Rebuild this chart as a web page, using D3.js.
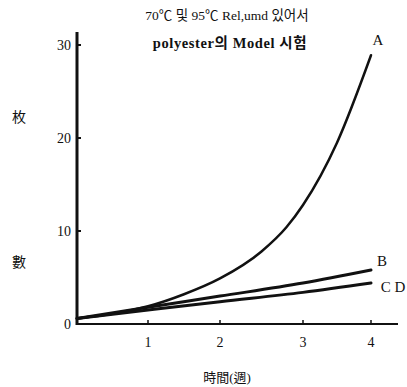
<!DOCTYPE html>
<html>
<head>
<meta charset="utf-8">
<script src="https://cdn.jsdelivr.net/npm/d3@7"></script>
<style>
  body { margin: 0; background: #fff; }
  text { font-family: "Liberation Serif", "Noto Sans CJK KR", serif; fill: #111; }
</style>
</head>
<body>
<svg id="chart" width="407" height="387" viewBox="0 0 407 387"></svg>
<script>
const weeksA = [0, 0.5, 1, 1.5, 2, 2.5, 2.8, 3, 3.5, 4];
const valuesA = [0.6, 1.1, 1.9, 3.2, 4.9, 7.8, 10.4, 12.8, 19.5, 28.9];
const weeksB = [0, 1, 2, 3, 4];
const valuesB = [0.6, 1.8, 3.0, 4.4, 5.8];
const weeksCD = [0, 1, 2, 3, 4];
const valuesCD = [0.6, 1.5, 2.4, 3.4, 4.4];

const xTicks = [1, 2, 3, 4];
const yTicks = [0, 10, 20, 30];
const titleLines = ["70℃ 및 95℃ Rel,umd 있어서", "polyester의 Model 시험"];
const seriesLabels = ["A", "B", "C D"];

const svg = d3.select("#chart");

// hand drawn axis: tick spacing is a little uneven
const x = d3.scaleLinear().domain([0, 1, 2, 3, 4]).range([77, 148, 220, 303, 371]);
const y = d3.scaleLinear().domain([0, 30]).range([324, 45]);

// title
svg.append("text").attr("x", 227).attr("y", 20)
    .attr("text-anchor", "middle").style("font-size", "13.5px")
    .text(titleLines[0]);
svg.append("text").attr("x", 230).attr("y", 48)
    .attr("text-anchor", "middle").style("font-size", "14.5px")
    .style("font-weight", "bold").style("letter-spacing", "0.6px")
    .text(titleLines[1]);

// axes
svg.append("line")
    .attr("x1", x(0)).attr("x2", x(0))
    .attr("y1", 32).attr("y2", y(0) + 1)
    .attr("stroke", "#111").attr("stroke-width", 3);
svg.append("line")
    .attr("x1", x(0)).attr("x2", 398)
    .attr("y1", y(0)).attr("y2", y(0))
    .attr("stroke", "#111").attr("stroke-width", 2);

svg.selectAll(".ytick").data(yTicks.filter(d => d > 0)).enter()
    .append("line").attr("class", "ytick")
    .attr("x1", x(0)).attr("x2", x(0) + 4)
    .attr("y1", d => y(d)).attr("y2", d => y(d))
    .attr("stroke", "#111").attr("stroke-width", 2);

svg.selectAll(".ylab").data(yTicks).enter()
    .append("text").attr("class", "ylab")
    .attr("x", 71).attr("y", d => y(d) + 5)
    .attr("text-anchor", "end").style("font-size", "14px")
    .text(d => d);

svg.selectAll(".xtick").data(xTicks).enter()
    .append("line").attr("class", "xtick")
    .attr("x1", d => x(d)).attr("x2", d => x(d))
    .attr("y1", y(0)).attr("y2", y(0) - 4)
    .attr("stroke", "#111").attr("stroke-width", 1.5);

svg.selectAll(".xlab").data(xTicks).enter()
    .append("text").attr("class", "xlab")
    .attr("x", d => x(d)).attr("y", 347)
    .attr("text-anchor", "middle").style("font-size", "14px")
    .text(d => d);

// axis titles
svg.append("text").attr("x", 227).attr("y", 382)
    .attr("text-anchor", "middle").style("font-size", "13px")
    .text("時間(週)");
svg.append("text").attr("x", 19).attr("y", 122)
    .attr("text-anchor", "middle").style("font-size", "14px")
    .text("枚");
svg.append("text").attr("x", 19).attr("y", 267)
    .attr("text-anchor", "middle").style("font-size", "14px")
    .text("數");

// curves
const line = d3.line()
    .x(d => x(d[0]))
    .y(d => y(d[1]))
    .curve(d3.curveMonotoneX);

const series = [
    { pts: d3.zip(weeksA, valuesA), w: 2.5 },
    { pts: d3.zip(weeksB, valuesB), w: 3 },
    { pts: d3.zip(weeksCD, valuesCD), w: 3 }
];

svg.selectAll(".curve").data(series).enter()
    .append("path").attr("class", "curve")
    .attr("d", d => line(d.pts))
    .attr("fill", "none")
    .attr("stroke", "#111")
    .attr("stroke-width", d => d.w)
    .attr("stroke-linecap", "round");

// series labels
const labelPos = [[378, 45], [382, 266], [393, 292]];
svg.selectAll(".slab").data(seriesLabels).enter()
    .append("text").attr("class", "slab")
    .attr("x", (d, i) => labelPos[i][0])
    .attr("y", (d, i) => labelPos[i][1])
    .attr("text-anchor", "middle").style("font-size", "15px")
    .text(d => d);
</script>
</body>
</html>
